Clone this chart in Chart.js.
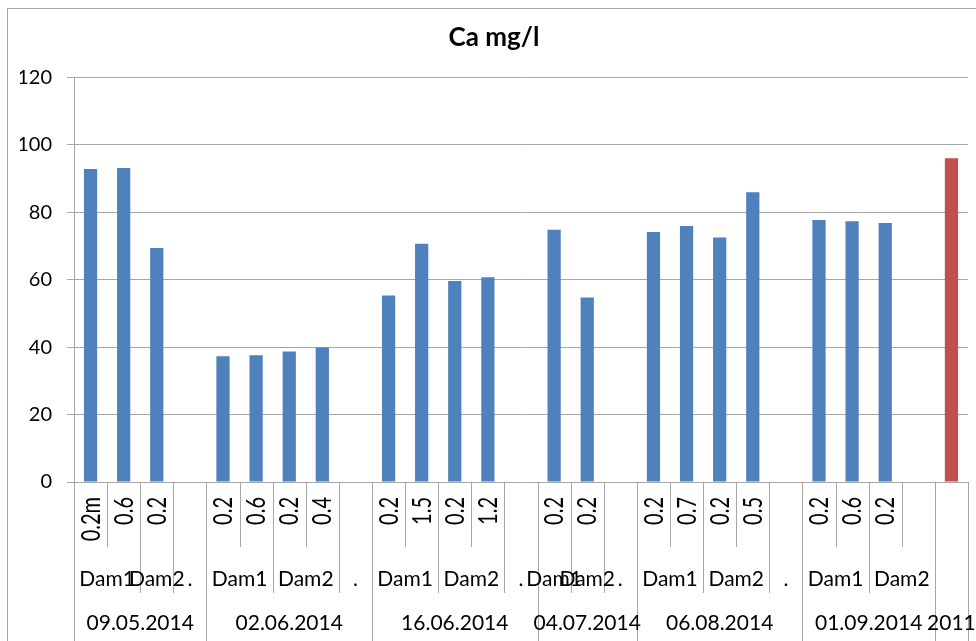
<!DOCTYPE html>
<html>
<head>
<meta charset="utf-8">
<script src="https://cdn.jsdelivr.net/npm/chart.js@4.4.1/dist/chart.umd.min.js"></script>
<style>
  html, body { margin: 0; padding: 0; background: #fff; }
</style>
</head>
<body>
<canvas id="chart" width="976" height="641"></canvas>
<script>
// three levels of category labels, one entry per category (Excel style axis)
const depths = ['0.2m', '0.6', '0.2', '',
  '0.2', '0.6', '0.2', '0.4', '',
  '0.2', '1.5', '0.2', '1.2', '',
  '0.2', '0.2', '',
  '0.2', '0.7', '0.2', '0.5', '',
  '0.2', '0.6', '0.2', '',
  ''];
const sites = ['Dam1', 'Dam1', 'Dam2', '.',
  'Dam1', 'Dam1', 'Dam2', 'Dam2', '.',
  'Dam1', 'Dam1', 'Dam2', 'Dam2', '.',
  'Dam1', 'Dam2', '.',
  'Dam1', 'Dam1', 'Dam2', 'Dam2', '.',
  'Dam1', 'Dam1', 'Dam2', 'Dam2',
  ''];
const dates = ['09.05.2014', '09.05.2014', '09.05.2014', '09.05.2014',
  '02.06.2014', '02.06.2014', '02.06.2014', '02.06.2014', '02.06.2014',
  '16.06.2014', '16.06.2014', '16.06.2014', '16.06.2014', '16.06.2014',
  '04.07.2014', '04.07.2014', '04.07.2014',
  '06.08.2014', '06.08.2014', '06.08.2014', '06.08.2014', '06.08.2014',
  '01.09.2014', '01.09.2014', '01.09.2014', '01.09.2014',
  '2011'];

// Ca mg/l values
const ca2014 = [92.8, 93.1, 69.4, null,
  37.3, 37.6, 38.7, 39.9, null,
  55.3, 70.6, 59.6, 60.7, null,
  74.8, 54.7, null,
  74.1, 75.9, 72.5, 85.9, null,
  77.7, 77.3, 76.8, null,
  null];
const ca2011 = [null, null, null, null, null, null, null, null, null, null,
  null, null, null, null, null, null, null, null, null, null,
  null, null, null, null, null, null, 96.0];

const yTicks = [0, 20, 40, 60, 80, 100, 120];

const lineGrey = '#a6a6a6';

// group consecutive equal labels (inner groups never cross a date)
function groups(labels, outer) {
  const out = [];
  labels.forEach((lab, i) => {
    const last = out[out.length - 1];
    if (last && last.label === lab && (!outer || outer[i] === outer[i - 1])) {
      last.end = i;
    } else {
      out.push({ label: lab, start: i, end: i });
    }
  });
  return out;
}

const axisLevels = {
  id: 'axisLevels',
  beforeDraw(chart) {
    const ctx = chart.ctx;
    ctx.save();
    ctx.fillStyle = '#fff';
    ctx.fillRect(0, 0, chart.width, chart.height);
    ctx.strokeStyle = lineGrey;
    ctx.lineWidth = 1;
    ctx.strokeRect(7.5, 8.5, chart.width, chart.height);
    ctx.restore();
  },
  afterDraw(chart) {
    const ctx = chart.ctx;
    const xs = chart.scales.x;
    const n = depths.length;
    const w = (xs.right - xs.left) / n;
    const top = chart.chartArea.bottom;
    ctx.save();

    // separator lines, longer for outer levels
    ctx.strokeStyle = lineGrey;
    ctx.lineWidth = 1;
    for (let i = 0; i <= n; i++) {
      let end = 547;
      if (i === 0 || i === n || dates[i - 1] !== dates[i]) end = 641;
      else if (sites[i - 1] !== sites[i]) end = 593;
      const px = Math.round(xs.left + i * w) + 0.5;
      ctx.beginPath();
      ctx.moveTo(px, top);
      ctx.lineTo(px, end);
      ctx.stroke();
    }

    ctx.fillStyle = '#000';

    // level 1: depths, rotated
    ctx.font = '20px Lato';
    depths.forEach((t, i) => {
      if (!t) return;
      const cx = xs.getPixelForValue(i);
      ctx.save();
      ctx.translate(cx, 497);
      ctx.rotate(-Math.PI / 2);
      ctx.scale(1, 1.3);
      ctx.textAlign = 'right';
      ctx.textBaseline = 'alphabetic';
      ctx.fillText(t, 0, 7);
      ctx.restore();
    });

    ctx.font = '21px Lato';
    ctx.textAlign = 'center';
    ctx.textBaseline = 'alphabetic';
    // level 2: sites
    groups(sites, dates).forEach(g => {
      if (!g.label) return;
      const cx = xs.left + (g.start + g.end + 1) / 2 * w;
      ctx.fillText(g.label, cx, 586);
    });
    // level 3: dates
    groups(dates).forEach(g => {
      const cx = xs.left + (g.start + g.end + 1) / 2 * w;
      ctx.fillText(g.label, cx, 630);
    });
    ctx.restore();
  }
};

new Chart(document.getElementById('chart'), {
  type: 'bar',
  data: {
    labels: depths,
    datasets: [
      {
        label: '2014',
        data: ca2014,
        backgroundColor: '#4f81bd',
        barPercentage: 0.4,
        categoryPercentage: 1,
        grouped: false
      },
      {
        label: '2011',
        data: ca2011,
        backgroundColor: '#c0504d',
        barPercentage: 0.4,
        categoryPercentage: 1,
        grouped: false
      }
    ]
  },
  options: {
    responsive: false,
    animation: false,
    layout: { padding: { left: 20, right: 8, top: 0, bottom: 0 } },
    plugins: {
      legend: { display: false },
      tooltip: { enabled: false },
      title: {
        display: true,
        text: 'Ca mg/l',
        color: '#000',
        font: { family: 'Lato', size: 26, weight: 'bold' },
        padding: { top: 22, bottom: 24 }
      }
    },
    scales: {
      x: {
        ticks: { display: false },
        grid: { display: false },
        border: { display: false },
        afterFit(scale) { scale.height = 159; }
      },
      y: {
        min: 0,
        max: 120,
        afterBuildTicks(scale) { scale.ticks = yTicks.map(v => ({ value: v })); },
        ticks: {
          color: '#000',
          padding: 15,
          font: { family: 'Lato', size: 20 }
        },
        grid: { color: lineGrey, tickLength: 7 },
        border: { color: lineGrey },
        afterFit(scale) { scale.width = 54; }
      }
    }
  },
  plugins: [axisLevels]
});
</script>
</body>
</html>
